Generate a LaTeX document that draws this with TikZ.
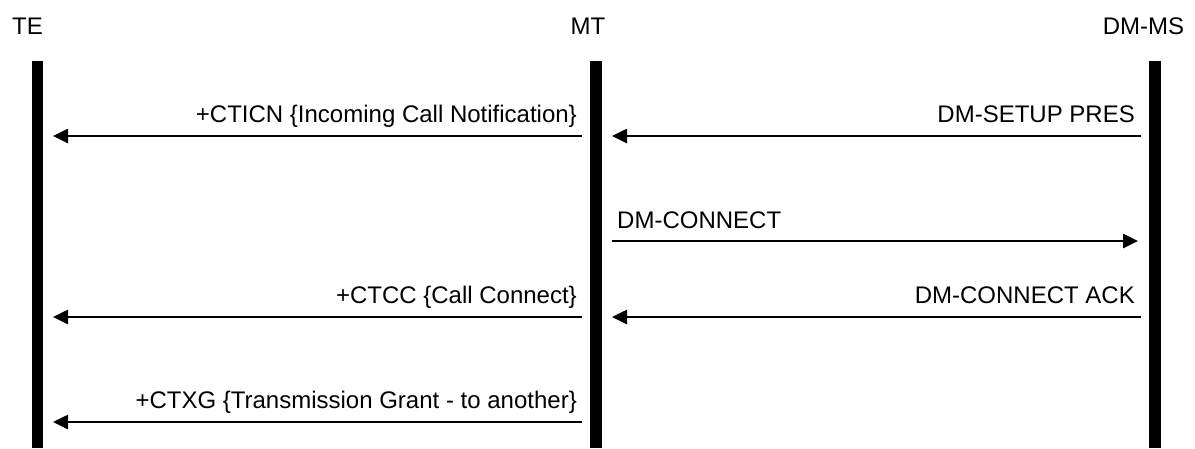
\documentclass[tikz,border=0pt]{standalone}
\usepackage{fontspec}
\setmainfont{Liberation Sans}
\usetikzlibrary{arrows.meta}
\begin{document}
\begin{tikzpicture}[x=1pt,y=-1pt,
  actor/.style={font=\fontsize{24}{28}\selectfont, anchor=base},
  lifeline/.style={fill=black, draw=none},
  msg/.style={line width=2.6pt, -{Triangle[length=15pt,width=14pt]}},
  lbl/.style={font=\fontsize{24}{28}\selectfont, inner sep=0pt}]
\useasboundingbox (0,0) rectangle (1195,448);
% actors
\node[actor] (te) at (27.5,34) {TE};
\node[actor] (mt) at (588,34) {MT};
\node[actor] (dm) at (1143.5,34) {DM-MS};
% lifelines
\fill[lifeline] (32,61) rectangle (43,448);
\fill[lifeline] (589.5,61) rectangle (601.5,448);
\fill[lifeline] (1148.5,61) rectangle (1160.5,448);
% endpoints
\coordinate (te1) at (53,136);   \coordinate (mtl1) at (582,136);
\coordinate (mtr1) at (612,136); \coordinate (dm1) at (1141,136);
\coordinate (mtr2) at (612,241); \coordinate (dm2) at (1138,241);
\coordinate (te3) at (53,317);   \coordinate (mtl3) at (582,317);
\coordinate (mtr3) at (612,317); \coordinate (dm3) at (1141,317);
\coordinate (te4) at (53,422);   \coordinate (mtl4) at (582,422);
% messages
\draw[msg] (mtl1) -- (te1);
\draw[msg] (dm1) -- (mtr1);
\draw[msg] (mtr2) -- (dm2);
\draw[msg] (mtl3) -- (te3);
\draw[msg] (dm3) -- (mtr3);
\draw[msg] (mtl4) -- (te4);
% labels
\node[lbl, anchor=base east] (l1) at (577,122) {+CTICN \{Incoming Call Notification\}};
\node[lbl, anchor=base east] (l2) at (1135,122) {DM-SETUP PRES};
\node[lbl, anchor=base west] (l3) at (617,228) {DM-CONNECT};
\node[lbl, anchor=base east] (l4) at (577,303) {+CTCC \{Call Connect\}};
\node[lbl, anchor=base east] (l5) at (1135,303) {DM-CONNECT ACK};
\node[lbl, anchor=base east] (l6) at (577,408) {+CTXG \{Transmission Grant - to another\}};
\end{tikzpicture}
\end{document}
